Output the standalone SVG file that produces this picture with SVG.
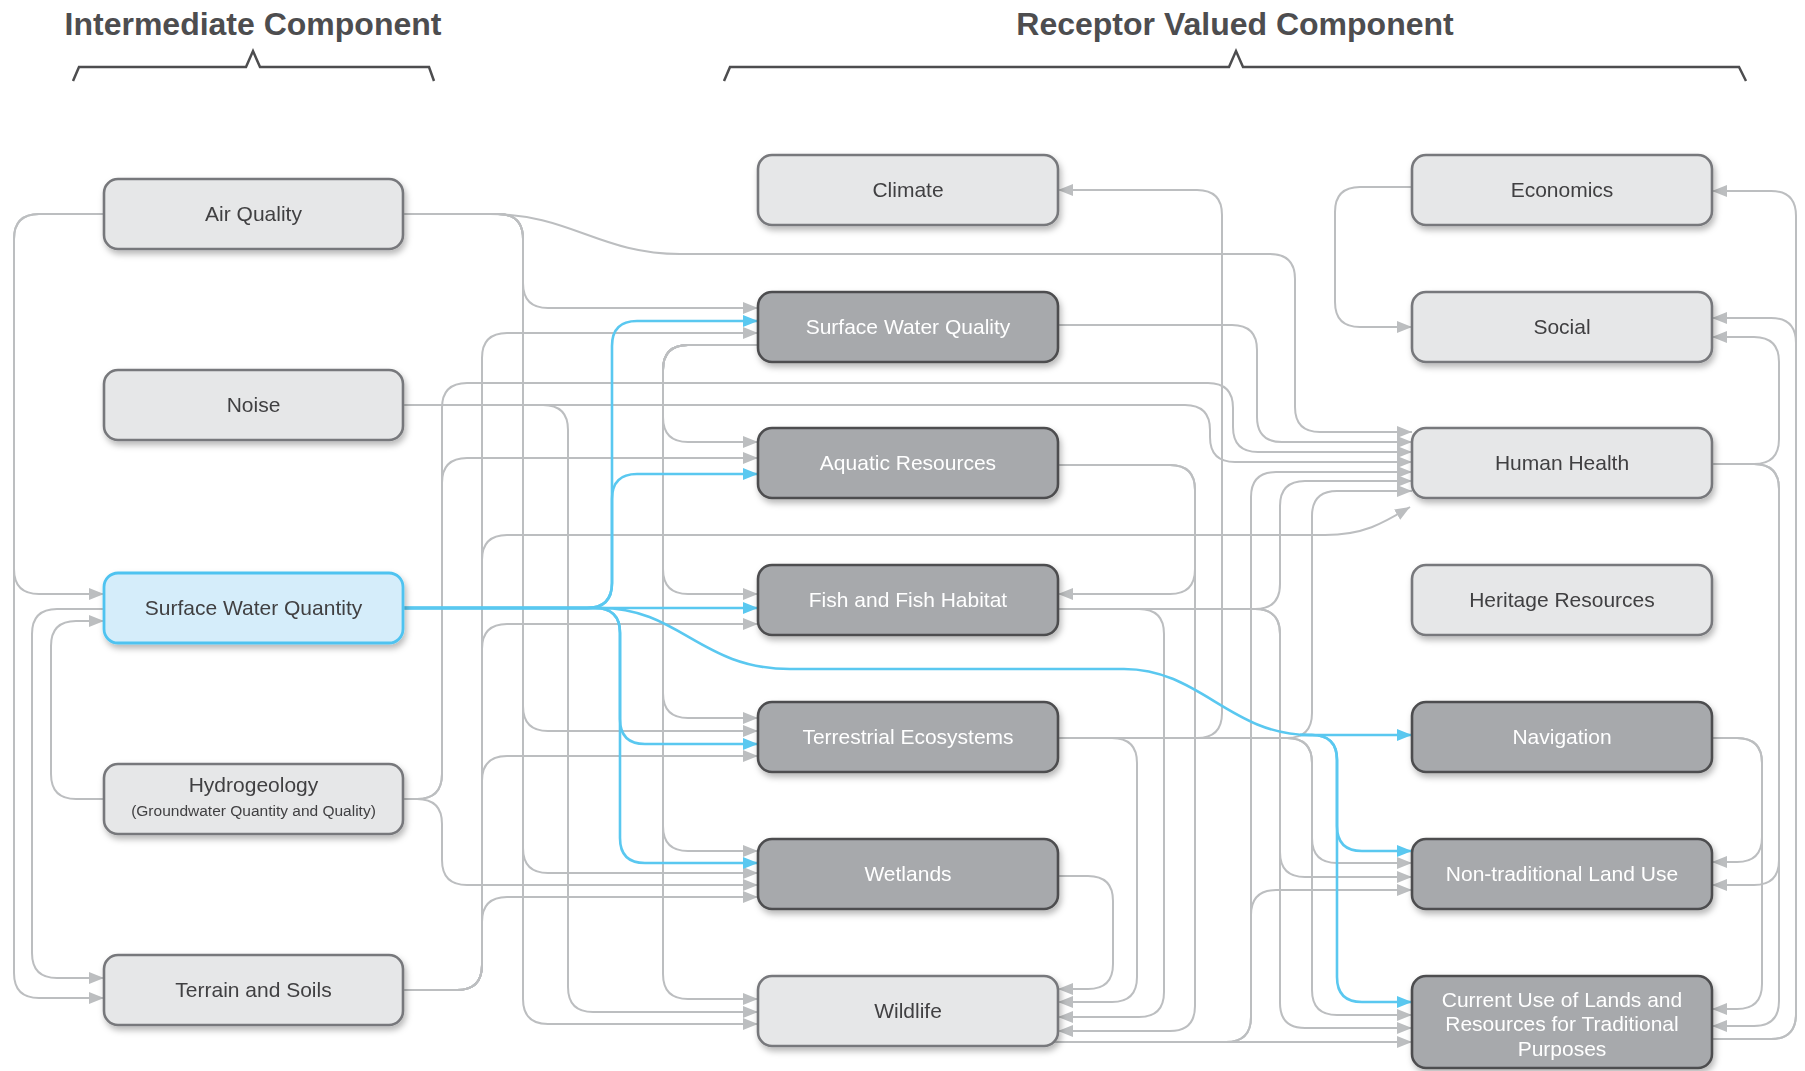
<svg xmlns="http://www.w3.org/2000/svg" width="1805" height="1071" viewBox="0 0 1805 1071">
<style>
.t{font-family:"Liberation Sans",Arial,sans-serif;font-weight:bold;font-size:32px;fill:#4d4d4f;text-anchor:middle}
.br{fill:none;stroke:#4d4d4f;stroke-width:2.5;stroke-linejoin:miter}
.c{fill:none;stroke:#bcbec0;stroke-width:2;marker-end:url(#ag)}
.b{fill:none;stroke:#5ac8f0;stroke-width:2.6;marker-end:url(#ab)}
.nl rect{fill:#e6e7e8;stroke:#77787b;stroke-width:2.6}
.nd rect{fill:#a7a9ac;stroke:#4d4d4f;stroke-width:2.6}
.ns rect{fill:#d5edfa;stroke:#4fc3f0;stroke-width:2.8}
text.l{font-family:"Liberation Sans",Arial,sans-serif;font-size:21px;text-anchor:middle}
.nl text,.ns text{fill:#414042}
.nd text{fill:#ffffff}
</style>
<defs>
<marker id="ag" markerUnits="userSpaceOnUse" markerWidth="15" markerHeight="12" refX="15" refY="6" orient="auto"><path d="M0,0 L15,6 L0,12 z" fill="#bcbec0"/></marker>
<marker id="ab" markerUnits="userSpaceOnUse" markerWidth="15" markerHeight="12" refX="15" refY="6" orient="auto"><path d="M0,0 L15,6 L0,12 z" fill="#5ac8f0"/></marker>
<filter id="sh" x="-10%" y="-20%" width="125%" height="160%"><feDropShadow dx="2" dy="4" stdDeviation="3" flood-color="#000" flood-opacity="0.28"/></filter>
</defs>
<rect width="1805" height="1071" fill="#ffffff"/>
<g id="headers">
<text class="t" x="253" y="35">Intermediate Component</text>
<path class="br" d="M73,81 L79,67 L246,67 L253,51 L260,67 L429,67 L434,81"/>
<text class="t" x="1235" y="35">Receptor Valued Component</text>
<path class="br" d="M724,81 L730,67 L1229,67 L1236,51 L1243,67 L1739,67 L1746,81"/>
</g>
<g id="connectors">
<path class="c" d="M104 214 H39 Q14 214 14 239 V569 Q14 594 39 594 H104"/>
<path class="c" d="M104 214 H39 Q14 214 14 239 V973 Q14 998 39 998 H104"/>
<path class="c" d="M104 609 H57 Q32 609 32 634 V953 Q32 978 57 978 H104"/>
<path class="c" d="M104 799 H76 Q51 799 51 774 V646 Q51 621 76 621 H104"/>
<path class="c" d="M403 214 H498 Q523 214 523 239 V283 Q523 308 548 308 H758"/>
<path class="c" d="M403 214 H498 Q523 214 523 239 V706 Q523 731 548 731 H758"/>
<path class="c" d="M403 214 H498 Q523 214 523 239 V848 Q523 873 548 873 H758"/>
<path class="c" d="M403 214 H498 Q523 214 523 239 V999 Q523 1024 548 1024 H758"/>
<path class="c" d="M403 214 H490 C570 214 600 254 680 254 H1270 Q1295 254 1295 279 V407 Q1295 432 1320 432 H1412"/>
<path class="c" d="M403 405 H543 Q568 405 568 430 V987 Q568 1012 593 1012 H758"/>
<path class="c" d="M403 405 H1185 Q1210 405 1210 430 V437 Q1210 462 1235 462 H1412"/>
<path class="c" d="M403 799 H417 Q442 799 442 774 V483 Q442 458 467 458 H758"/>
<path class="c" d="M403 799 H417 Q442 799 442 774 V408 Q442 383 467 383 H1208 Q1233 383 1233 408 V427 Q1233 452 1258 452 H1412"/>
<path class="c" d="M403 799 H417 Q442 799 442 824 V860 Q442 885 467 885 H758"/>
<path class="c" d="M403 990 H457 Q482 990 482 965 V358 Q482 333 507 333 H758"/>
<path class="c" d="M403 990 H457 Q482 990 482 965 V560 Q482 535 507 535 H1325 C1365 535 1385 522 1410 507"/>
<path class="c" d="M403 990 H457 Q482 990 482 965 V649 Q482 624 507 624 H758"/>
<path class="c" d="M403 990 H457 Q482 990 482 965 V781 Q482 756 507 756 H758"/>
<path class="c" d="M403 990 H457 Q482 990 482 965 V922 Q482 897 507 897 H758"/>
<path class="c" d="M758 345 H688 Q663 345 663 370 V417 Q663 442 688 442 H758"/>
<path class="c" d="M758 345 H688 Q663 345 663 370 V569 Q663 594 688 594 H758"/>
<path class="c" d="M758 345 H688 Q663 345 663 370 V693 Q663 718 688 718 H758"/>
<path class="c" d="M758 345 H688 Q663 345 663 370 V826 Q663 851 688 851 H758"/>
<path class="c" d="M758 345 H688 Q663 345 663 370 V974 Q663 999 688 999 H758"/>
<path class="c" d="M1058 325 H1232 Q1257 325 1257 350 V417 Q1257 442 1282 442 H1412"/>
<path class="c" d="M1058 465 H1170 Q1195 465 1195 490 V569 Q1195 594 1170 594 H1058"/>
<path class="c" d="M1058 465 H1170 Q1195 465 1195 490 V1006 Q1195 1031 1170 1031 H1058"/>
<path class="c" d="M1058 609 H1139 Q1164 609 1164 634 V992 Q1164 1017 1139 1017 H1058"/>
<path class="c" d="M1058 609 H1255 Q1280 609 1280 584 V506 Q1280 481 1305 481 H1412"/>
<path class="c" d="M1058 609 H1255 Q1280 609 1280 634 V852 Q1280 877 1305 877 H1412"/>
<path class="c" d="M1058 609 H1255 Q1280 609 1280 634 V1003 Q1280 1028 1305 1028 H1412"/>
<path class="c" d="M1058 738 H1197 Q1222 738 1222 713 V215 Q1222 190 1197 190 H1058"/>
<path class="c" d="M1058 738 H1112 Q1137 738 1137 763 V977 Q1137 1002 1112 1002 H1058"/>
<path class="c" d="M1058 738 H1287 Q1312 738 1312 713 V516 Q1312 491 1337 491 H1412"/>
<path class="c" d="M1058 738 H1287 Q1312 738 1312 763 V838 Q1312 863 1337 863 H1412"/>
<path class="c" d="M1058 738 H1287 Q1312 738 1312 763 V990 Q1312 1015 1337 1015 H1412"/>
<path class="c" d="M1058 876 H1088 Q1113 876 1113 901 V964 Q1113 989 1088 989 H1058"/>
<path class="c" d="M1054 1042 H1412"/>
<path class="c" d="M1054 1042 H1226 Q1251 1042 1251 1017 V915 Q1251 890 1276 890 H1412"/>
<path class="c" d="M1054 1042 H1226 Q1251 1042 1251 1017 V497 Q1251 472 1276 472 H1412"/>
<path class="c" d="M1412 187 H1360 Q1335 187 1335 212 V302 Q1335 327 1360 327 H1412"/>
<path class="c" d="M1712 464 H1754 Q1779 464 1779 439 V362 Q1779 337 1754 337 H1712"/>
<path class="c" d="M1712 464 H1754 Q1779 464 1779 489 V860 Q1779 885 1754 885 H1712"/>
<path class="c" d="M1712 464 H1754 Q1779 464 1779 489 V1001 Q1779 1026 1754 1026 H1712"/>
<path class="c" d="M1712 738 H1737 Q1762 738 1762 763 V837 Q1762 862 1737 862 H1712"/>
<path class="c" d="M1712 738 H1737 Q1762 738 1762 763 V984 Q1762 1009 1737 1009 H1712"/>
<path class="c" d="M1712 1039 H1771 Q1796 1039 1796 1014 V216 Q1796 191 1771 191 H1712"/>
<path class="c" d="M1712 1039 H1771 Q1796 1039 1796 1014 V343 Q1796 318 1771 318 H1712"/>
<path class="b" d="M403 608 H758"/>
<path class="b" d="M403 608 H587 Q612 608 612 583 V346 Q612 321 637 321 H758"/>
<path class="b" d="M403 608 H587 Q612 608 612 583 V499 Q612 474 637 474 H758"/>
<path class="b" d="M403 608 H595 Q620 608 620 633 V719 Q620 744 645 744 H758"/>
<path class="b" d="M403 608 H595 Q620 608 620 633 V838 Q620 863 645 863 H758"/>
<path class="b" d="M403 608 H600 C680 608 700 669 790 669 H1124 C1200 669 1230 735 1310 735 H1412"/>
<path class="b" d="M1300 735 H1312 Q1337 735 1337 760 V826 Q1337 851 1362 851 H1412"/>
<path class="b" d="M1300 735 H1312 Q1337 735 1337 760 V977 Q1337 1002 1362 1002 H1412"/>
</g>
<g id="nodes" filter="url(#sh)">
<g id="air-quality" class="nl"><rect x="104" y="179" width="299" height="70" rx="14"/><text class="l" x="253.5" y="221">Air Quality</text></g>
<g id="noise" class="nl"><rect x="104" y="370" width="299" height="70" rx="14"/><text class="l" x="253.5" y="412">Noise</text></g>
<g id="surface-water-quantity" class="ns"><rect x="104" y="573" width="299" height="70" rx="14"/><text class="l" x="253.5" y="615">Surface Water Quantity</text></g>
<g id="hydrogeology" class="nl"><rect x="104" y="764" width="299" height="70" rx="14"/><text class="l" x="253.5" y="792">Hydrogeology</text><text class="l" x="253.5" y="816" style="font-size:15.5px">(Groundwater Quantity and Quality)</text></g>
<g id="terrain-and-soils" class="nl"><rect x="104" y="955" width="299" height="70" rx="14"/><text class="l" x="253.5" y="997">Terrain and Soils</text></g>
<g id="climate" class="nl"><rect x="758" y="155" width="300" height="70" rx="14"/><text class="l" x="908" y="197">Climate</text></g>
<g id="surface-water-quality" class="nd"><rect x="758" y="292" width="300" height="70" rx="14"/><text class="l" x="908" y="334">Surface Water Quality</text></g>
<g id="aquatic-resources" class="nd"><rect x="758" y="428" width="300" height="70" rx="14"/><text class="l" x="908" y="470">Aquatic Resources</text></g>
<g id="fish-and-fish-habitat" class="nd"><rect x="758" y="565" width="300" height="70" rx="14"/><text class="l" x="908" y="607">Fish and Fish Habitat</text></g>
<g id="terrestrial-ecosystems" class="nd"><rect x="758" y="702" width="300" height="70" rx="14"/><text class="l" x="908" y="744">Terrestrial Ecosystems</text></g>
<g id="wetlands" class="nd"><rect x="758" y="839" width="300" height="70" rx="14"/><text class="l" x="908" y="881">Wetlands</text></g>
<g id="wildlife" class="nl"><rect x="758" y="976" width="300" height="70" rx="14"/><text class="l" x="908" y="1018">Wildlife</text></g>
<g id="economics" class="nl"><rect x="1412" y="155" width="300" height="70" rx="14"/><text class="l" x="1562" y="197">Economics</text></g>
<g id="social" class="nl"><rect x="1412" y="292" width="300" height="70" rx="14"/><text class="l" x="1562" y="334">Social</text></g>
<g id="human-health" class="nl"><rect x="1412" y="428" width="300" height="70" rx="14"/><text class="l" x="1562" y="470">Human Health</text></g>
<g id="heritage-resources" class="nl"><rect x="1412" y="565" width="300" height="70" rx="14"/><text class="l" x="1562" y="607">Heritage Resources</text></g>
<g id="navigation" class="nd"><rect x="1412" y="702" width="300" height="70" rx="14"/><text class="l" x="1562" y="744">Navigation</text></g>
<g id="non-traditional-land-use" class="nd"><rect x="1412" y="839" width="300" height="70" rx="14"/><text class="l" x="1562" y="881">Non-traditional Land Use</text></g>
<g id="current-use" class="nd"><rect x="1412" y="976" width="300" height="92" rx="14"/><text class="l" x="1562" y="1007">Current Use of Lands and</text><text class="l" x="1562" y="1031">Resources for Traditional</text><text class="l" x="1562" y="1056">Purposes</text></g>
</g>
</svg>
